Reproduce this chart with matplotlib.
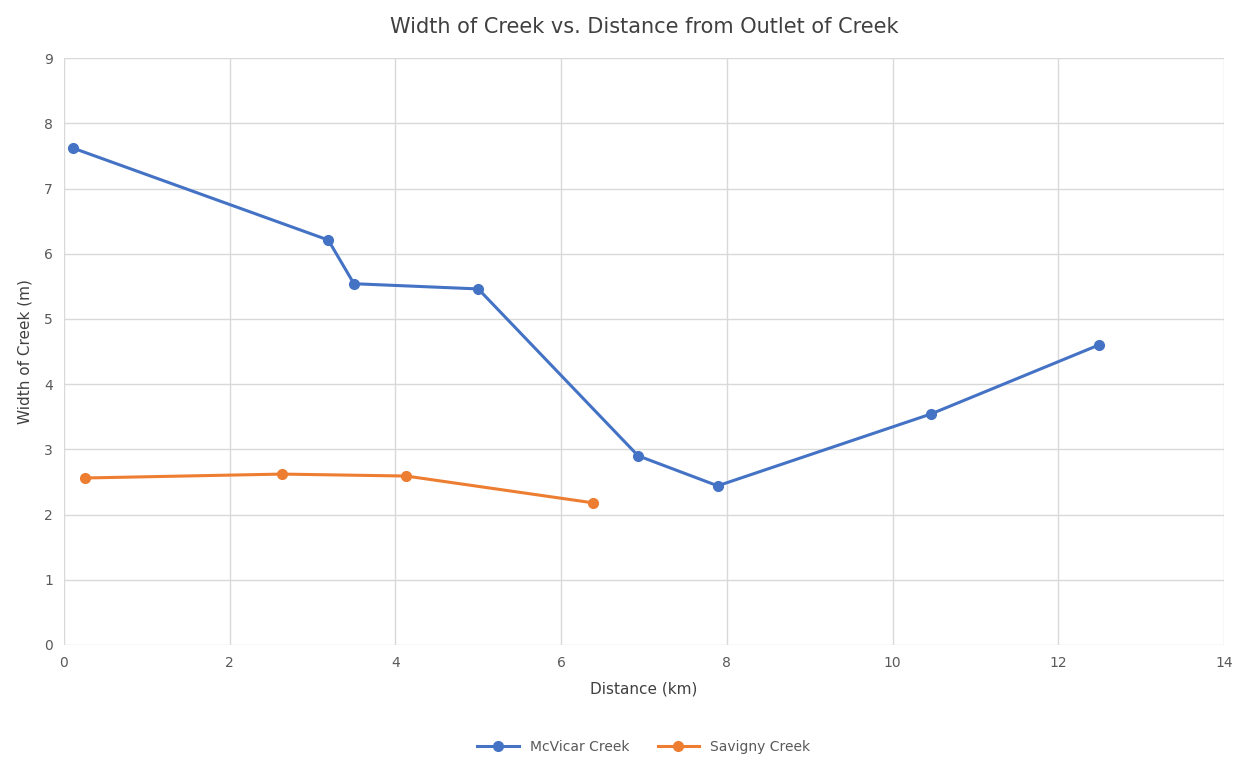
import matplotlib.pyplot as plt

mcvicar_x = [0.11, 3.19, 3.5, 5.0, 6.93, 7.89, 10.46, 12.49]
mcvicar_y = [7.62, 6.21, 5.54, 5.46, 2.9, 2.44, 3.54, 4.6]
savigny_x = [0.25, 2.63, 4.13, 6.38]
savigny_y = [2.56, 2.62, 2.59, 2.18]

fig = plt.figure(figsize=(12.44, 7.65), dpi=100)
ax = fig.add_axes([0.0514, 0.157, 0.9325, 0.767])

ax.plot(mcvicar_x, mcvicar_y, color='#4472C4', lw=2.2, marker='o', ms=7, label='McVicar Creek')
ax.plot(savigny_x, savigny_y, color='#ED7D31', lw=2.2, marker='o', ms=7, label='Savigny Creek')

ax.set_xlim(0, 14)
ax.set_ylim(0, 9)
ax.set_xticks(range(0, 15, 2))
ax.set_yticks(range(0, 10))
ax.grid(color='#D9D9D9', lw=1)
ax.set_axisbelow(True)
for s in ax.spines.values():
    s.set_visible(False)
ax.tick_params(length=0, colors='#595959', labelsize=10, pad=8)

ax.set_title('Width of Creek vs. Distance from Outlet of Creek', fontsize=15, color='#404040', pad=18)
ax.set_xlabel('Distance (km)', fontsize=11, color='#404040', labelpad=8)
ax.set_ylabel('Width of Creek (m)', fontsize=11, color='#404040', labelpad=8)

ax.legend(loc='upper center', bbox_to_anchor=(0.5, -0.14), ncol=2, frameon=False,
          fontsize=10, labelcolor='#595959', handlelength=3, columnspacing=2)

fig.savefig('out.png', dpi=100)
